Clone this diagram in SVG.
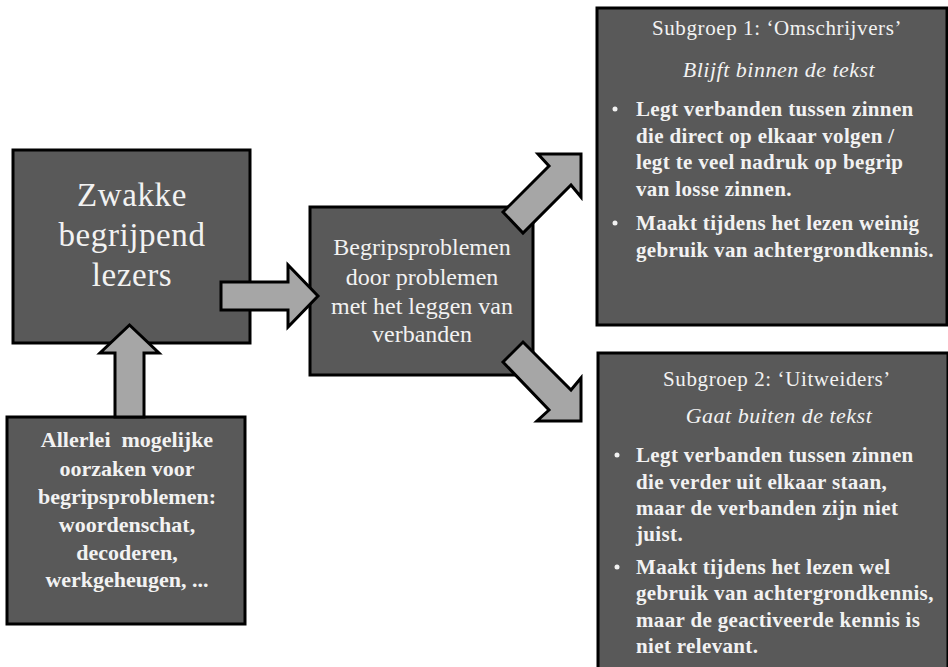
<svg xmlns="http://www.w3.org/2000/svg" width="948" height="667" viewBox="0 0 948 667">
<style>
.box{fill:#595959;stroke:#000;stroke-width:3}
.arr{fill:#a6a6a6;stroke:#000;stroke-width:3;stroke-linejoin:miter}
text{font-family:"Liberation Serif","Times New Roman",serif;fill:#f2f2f2}
.big{font-size:33px;text-anchor:middle;letter-spacing:0.6px}
.mid{font-size:24px;text-anchor:middle}
.b3{font-size:22px;font-weight:bold;text-anchor:middle}
.ttl{font-size:21px;text-anchor:middle;letter-spacing:0.6px}
.it{font-size:22px;font-style:italic;text-anchor:middle;letter-spacing:0.5px}
.bl{font-size:21px;font-weight:bold;letter-spacing:0.35px}
.dot{fill:#f2f2f2}
</style>
<rect width="948" height="667" fill="#fff"/>
<g id="node-zwakke">
<rect class="box" x="13" y="150" width="237" height="193"/>
<text class="big" x="132" y="206">Zwakke</text>
<text class="big" x="132" y="246">begrijpend</text>
<text class="big" x="132" y="286">lezers</text>
</g>
<g id="node-begripsproblemen">
<rect class="box" x="310" y="207" width="223" height="168"/>
<text class="mid" x="422" y="255">Begripsproblemen</text>
<text class="mid" x="422" y="285">door problemen</text>
<text class="mid" x="422" y="314">met het leggen van</text>
<text class="mid" x="422" y="342">verbanden</text>
</g>
<g id="node-oorzaken">
<rect class="box" x="7" y="417" width="238" height="207"/>
<text class="b3" x="127" y="447" xml:space="preserve">Allerlei  mogelijke</text>
<text class="b3" x="127" y="476">oorzaken voor</text>
<text class="b3" x="127" y="504">begripsproblemen:</text>
<text class="b3" x="127" y="532">woordenschat,</text>
<text class="b3" x="127" y="560">decoderen,</text>
<text class="b3" x="127" y="587">werkgeheugen, ...</text>
</g>
<g id="node-subgroep1">
<rect class="box" x="597" y="8" width="350" height="317"/>
<text class="ttl" x="777" y="35">Subgroep 1: ‘Omschrijvers’</text>
<text class="it" x="779" y="77">Blijft binnen de tekst</text>
<circle class="dot" cx="615" cy="109" r="2.5"/>
<text class="bl" x="636" y="116">Legt verbanden tussen zinnen</text>
<text class="bl" x="636" y="143">die direct op elkaar volgen /</text>
<text class="bl" x="636" y="169">legt te veel nadruk op begrip</text>
<text class="bl" x="636" y="196">van losse zinnen.</text>
<circle class="dot" cx="615" cy="223" r="2.5"/>
<text class="bl" x="636" y="230">Maakt tijdens het lezen weinig</text>
<text class="bl" x="636" y="257">gebruik van achtergrondkennis.</text>
</g>
<g id="node-subgroep2">
<rect class="box" x="598" y="353" width="350" height="330"/>
<text class="ttl" x="777" y="386">Subgroep 2: ‘Uitweiders’</text>
<text class="it" x="779" y="423">Gaat buiten de tekst</text>
<circle class="dot" cx="617" cy="455" r="2.5"/>
<text class="bl" x="636" y="462">Legt verbanden tussen zinnen</text>
<text class="bl" x="636" y="489">die verder uit elkaar staan,</text>
<text class="bl" x="636" y="515">maar de verbanden zijn niet</text>
<text class="bl" x="636" y="541">juist.</text>
<circle class="dot" cx="617" cy="567" r="2.5"/>
<text class="bl" x="636" y="574">Maakt tijdens het lezen wel</text>
<text class="bl" x="636" y="600">gebruik van achtergrondkennis,</text>
<text class="bl" x="636" y="627">maar de geactiveerde kennis is</text>
<text class="bl" x="636" y="653">niet relevant.</text>
</g>
<g id="connectors">
<polygon class="arr" points="221,282 288,282 288,265 318,296 288,327 288,310 221,310"/>
<polygon class="arr" points="115,417 115,353 100,353 129.5,325 159,353 144,353 144,417"/>
<polygon class="arr" points="503,212 549,166 538,154 581,154 581,197 571,185 523,233"/>
<polygon class="arr" points="503,362 523,342 571,390 581,378 581,421 537,421 549,410"/>
</g>
</svg>
